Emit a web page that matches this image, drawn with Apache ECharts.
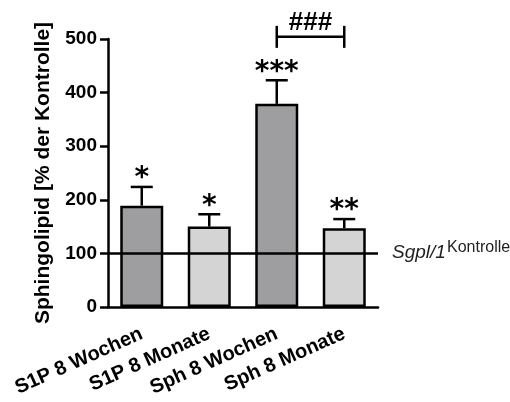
<!DOCTYPE html>
<html><head><meta charset="utf-8">
<script src="https://cdn.jsdelivr.net/npm/echarts@6/dist/echarts.min.js"></script>
<style>html,body{margin:0;padding:0;background:#fff}#c{width:510px;height:402px}</style>
</head><body><div id="c"></div>
<script>
const categories = ['S1P 8 Wochen', 'S1P 8 Monate', 'Sph 8 Wochen', 'Sph 8 Monate'];
const means = [189, 150, 379, 147];
const errTops = [224, 173, 423, 164];
const sigLabels = ['*', '*', '***', '**'];
const barColors = ['#9e9ea0', '#d4d4d4', '#9e9ea0', '#d4d4d4'];
const yTicks = [0, 100, 200, 300, 400, 500];
const refValue = 100;
const bracket = { from: 2, to: 3, value: 504, label: '###' };

const chart = echarts.init(document.getElementById('c'), null, {renderer: 'canvas'});
const F = 'Liberation Sans, Arial, sans-serif';
const option = {
  animation: false,
  grid: { left: 108, right: 132, top: 39, bottom: 95, containLabel: false },
  xAxis: {
    type: 'category', data: categories,
    axisLine: { lineStyle: { color: '#000', width: 2.5 } },
    axisTick: { alignWithLabel: true, length: 7, lineStyle: { color: '#000', width: 2.5 } },
    axisLabel: { rotate: 24, margin: 26, color: '#000', fontFamily: F, fontWeight: 'bold', fontSize: 20 }
  },
  yAxis: {
    type: 'value', min: yTicks[0], max: yTicks[yTicks.length - 1], interval: 100,
    name: 'Sphingolipid [% der Kontrolle]', nameLocation: 'middle', nameGap: 54,
    nameTextStyle: { color: '#000', fontFamily: F, fontWeight: 'bold', fontSize: 21 },
    axisLine: { show: true, lineStyle: { color: '#000', width: 2.5 } },
    axisTick: { show: true, length: 8, lineStyle: { color: '#000', width: 2.5 } },
    axisLabel: { margin: 11, color: '#000', fontFamily: F, fontWeight: 'bold', fontSize: 19 },
    splitLine: { show: false }
  },
  series: [
    {
      type: 'bar', barWidth: 43,
      data: means.map((v, i) => ({ value: v, itemStyle: { color: barColors[i] } })),
      itemStyle: { borderColor: '#000', borderWidth: 2.5 },
      z: 2,
      markLine: {
        silent: true, symbol: 'none', label: { show: false },
        lineStyle: { color: '#000', width: 2.5, type: 'solid' },
        data: [{ yAxis: refValue }], z: 5
      }
    },
    {
      type: 'custom', z: 3, clip: false,
      data: means.map((m, i) => [i, m, errTops[i]]),
      renderItem: function (params, api) {
        const i = api.value(0);
        const pMean = api.coord([i, api.value(1)]);
        const pTop = api.coord([i, api.value(2)]);
        const ls = { stroke: '#000', lineWidth: 2.5 };
        return { type: 'group', children: [
          { type: 'line', shape: { x1: pTop[0], y1: pMean[1], x2: pTop[0], y2: pTop[1] }, style: ls },
          { type: 'line', shape: { x1: pTop[0] - 11, y1: pTop[1], x2: pTop[0] + 11, y2: pTop[1] }, style: ls },
          { type: 'text', style: { text: sigLabels[i], x: pTop[0], y: pTop[1] + 6, align: 'center', verticalAlign: 'bottom',
            font: 'bold 28px "DejaVu Sans"', fill: '#000' } }
        ]};
      }
    },
    {
      type: 'custom', z: 3, clip: false,
      data: [[bracket.from, bracket.to, bracket.value]],
      renderItem: function (params, api) {
        const a = api.coord([api.value(0), api.value(2)]);
        const b = api.coord([api.value(1), api.value(2)]);
        const ls = { stroke: '#000', lineWidth: 2.5 };
        return { type: 'group', children: [
          { type: 'line', shape: { x1: a[0], y1: a[1], x2: b[0], y2: b[1] }, style: ls },
          { type: 'line', shape: { x1: a[0], y1: a[1] - 11, x2: a[0], y2: a[1] + 11 }, style: ls },
          { type: 'line', shape: { x1: b[0], y1: b[1] - 11, x2: b[0], y2: b[1] + 11 }, style: ls },
          { type: 'text', style: { text: bracket.label, x: (a[0] + b[0]) / 2, y: a[1] - 1, align: 'center', verticalAlign: 'bottom',
            font: 'bold 26px "Liberation Sans"', fill: '#000' } }
        ]};
      }
    }
  ]
};
chart.setOption(option);
const refPx = chart.convertToPixel({ gridIndex: 0 }, [3, refValue]);
chart.setOption({
  graphic: [
    { type: 'text', x: 392, y: refPx[1] + 9,
      style: { text: 'Sgpl/1', font: 'italic 19px "Liberation Sans"', fill: '#222', verticalAlign: 'bottom' } },
    { type: 'text', x: 447, y: refPx[1] + 2,
      style: { text: 'Kontrolle', font: '16px "Liberation Sans"', fill: '#222', verticalAlign: 'bottom' } }
  ]
});
</script></body></html>
